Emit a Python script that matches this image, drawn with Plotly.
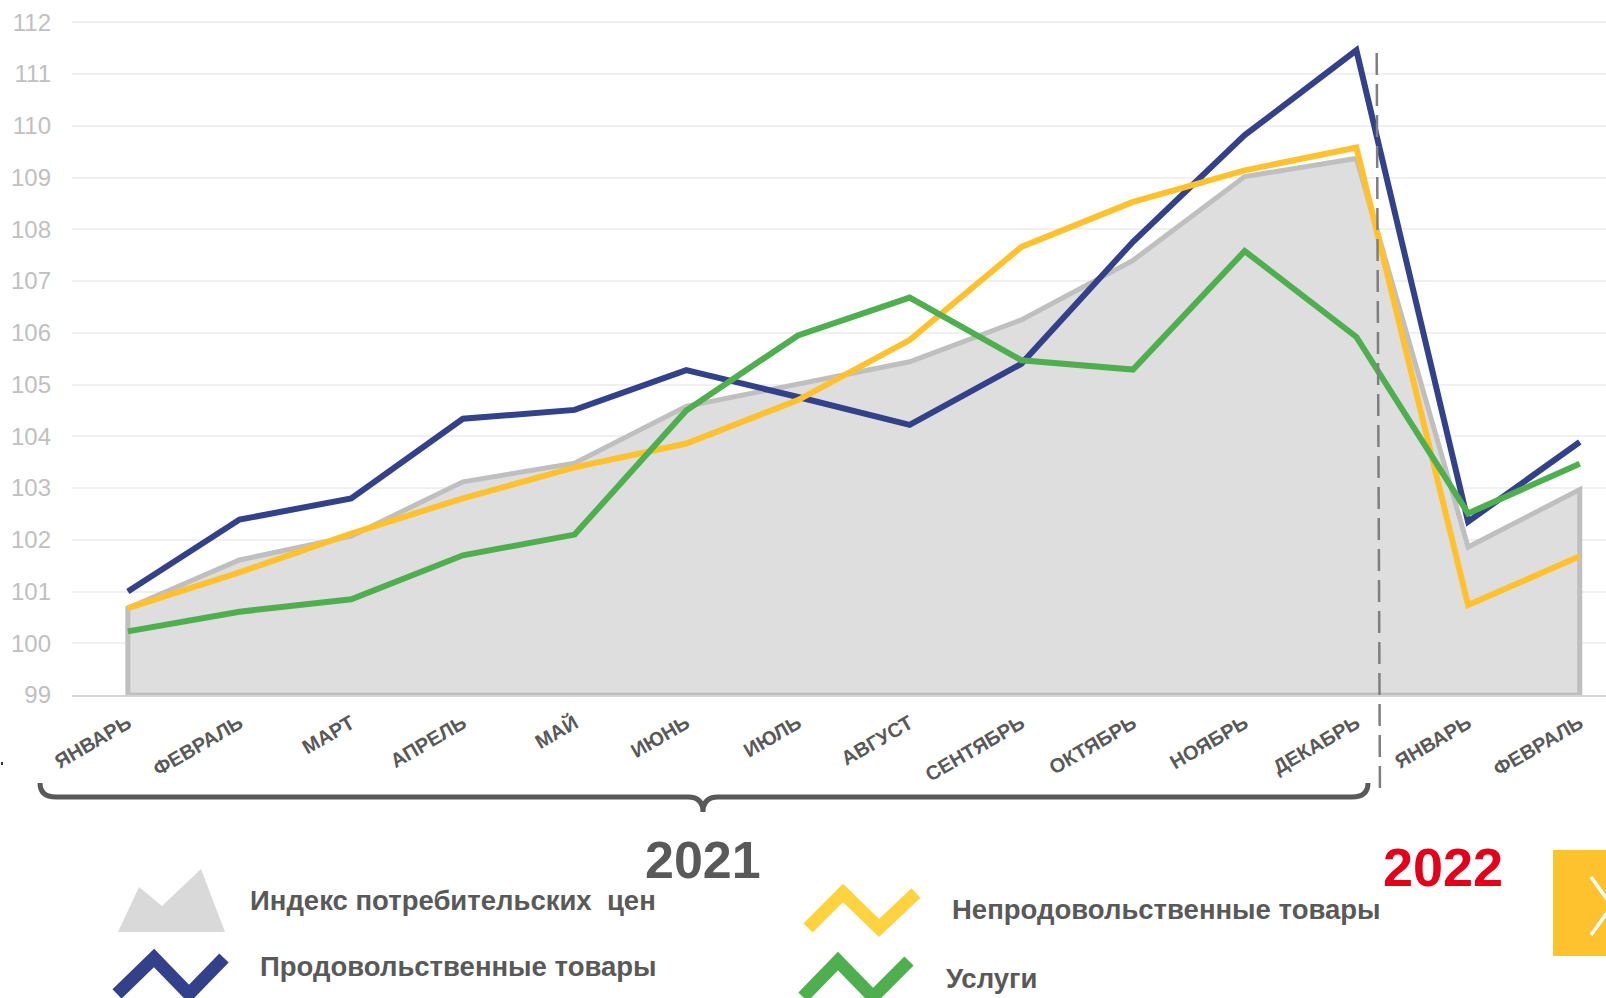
import plotly.graph_objects as go

# ---------------- data ----------------
months = ["ЯНВАРЬ", "ФЕВРАЛЬ", "МАРТ", "АПРЕЛЬ", "МАЙ", "ИЮНЬ", "ИЮЛЬ",
          "АВГУСТ", "СЕНТЯБРЬ", "ОКТЯБРЬ", "НОЯБРЬ", "ДЕКАБРЬ", "ЯНВАРЬ", "ФЕВРАЛЬ"]
cpi = [100.68, 101.61, 102.07, 103.12, 103.48, 104.58, 105.02,
       105.44, 106.25, 107.40, 109.02, 109.37, 101.86, 102.97]
food = [101.00, 102.39, 102.80, 104.34, 104.51, 105.28, 104.76,
        104.22, 105.40, 107.76, 109.82, 111.46, 102.35, 103.89]
nonfood = [100.68, 101.37, 102.12, 102.80, 103.40, 103.86, 104.70,
           105.86, 107.66, 108.53, 109.14, 109.58, 100.74, 101.68]
services = [100.23, 100.61, 100.85, 101.70, 102.10, 104.50, 105.95,
            106.68, 105.47, 105.29, 107.58, 105.92, 102.51, 103.47]
yticks = list(range(99, 113))
legend_names = ["Индекс потребительских\u00a0 цен", "Продовольственные товары",
                "Непродовольственные товары", "Услуги"]
years = ["2021", "2022"]

# ---------------- layout constants ----------------
W, H = 1606, 998
ML, MR, MT, MB = 72, 0, 12, 303
X_RANGE = [-0.5, 13.235]
Y_RANGE = [99, 112.2]

def px(x):
    return (x - ML) / (W - ML - MR)

def py(y):
    return (H - MB - y) / (H - MT - MB)

NAVY = "#33418a"
YELLOW = "#ffc22e"
GREEN = "#4faf4f"
GREY_LINE = "#bfbfbf"
GREY_FILL = "#dedede"
TEXT = "#595959"
FONT_N = "Liberation Sans Narrow, Arial Narrow, Liberation Sans, Arial, sans-serif"

idx = list(range(len(months)))

fig = go.Figure()

# CPI area (closed polygon down to the baseline)
fig.add_trace(go.Scatter(
    x=[idx[0]] + idx + [idx[-1], idx[0]],
    y=[Y_RANGE[0]] + cpi + [Y_RANGE[0], Y_RANGE[0]],
    mode="lines", fill="toself", fillcolor=GREY_FILL,
    line=dict(color=GREY_LINE, width=5),
    name=legend_names[0], showlegend=False, hoverinfo="skip"))

for vals, col, nm in [(food, NAVY, legend_names[1]),
                      (nonfood, YELLOW, legend_names[2]),
                      (services, GREEN, legend_names[3])]:
    fig.add_trace(go.Scatter(x=idx, y=vals, mode="lines",
                             line=dict(color=col, width=6),
                             name=nm, showlegend=False))

shapes = []
# dashed separator between years
shapes.append(dict(type="line", xref="x", yref="paper",
                   x0=11.182, y0=py(53), x1=11.211, y1=py(795),
                   line=dict(color="#7f7f7f", width=2.5, dash="22px,9px")))

# curly brace under 2021
brace = (f"M {px(40)},{py(783)} Q {px(40)},{py(797)} {px(56)},{py(797)} "
         f"L {px(688)},{py(797)} Q {px(703)},{py(797)} {px(703)},{py(812)} "
         f"Q {px(703)},{py(797)} {px(718)},{py(797)} "
         f"L {px(1352)},{py(797)} Q {px(1368)},{py(797)} {px(1368)},{py(783)}")
shapes.append(dict(type="path", xref="paper", yref="paper", path=brace,
                   line=dict(color=TEXT, width=5)))

def zig(pts):
    s = "M " + " L ".join(f"{px(a)},{py(b)}" for a, b in pts)
    return s

# legend icons
mount = zig([(118, 932), (139, 887), (162, 906), (201, 869), (225, 932)]) + " Z"
shapes.append(dict(type="path", xref="paper", yref="paper", path=mount,
                   fillcolor="#d9d9d9", line=dict(width=0)))
shapes.append(dict(type="path", xref="paper", yref="paper",
                   path=zig([(117, 994), (154, 958), (189, 994), (224, 958)]),
                   line=dict(color=NAVY, width=13)))
shapes.append(dict(type="path", xref="paper", yref="paper",
                   path=zig([(808, 928), (843, 893), (879, 928), (916, 893)]),
                   line=dict(color="#ffd23f", width=13)))
shapes.append(dict(type="path", xref="paper", yref="paper",
                   path=zig([(803, 997), (838, 961), (873, 997), (909, 961)]),
                   line=dict(color=GREEN, width=13)))

# yellow nav box with chevron
shapes.append(dict(type="rect", xref="paper", yref="paper",
                   x0=px(1553), x1=px(1610), y0=py(956), y1=py(850),
                   fillcolor="#fec22f", line=dict(width=0)))
shapes.append(dict(type="path", xref="paper", yref="paper",
                   path=zig([(1591, 877), (1612, 906), (1591, 935)]),
                   line=dict(color="white", width=3.5)))
# tiny dot at left
shapes.append(dict(type="rect", xref="paper", yref="paper",
                   x0=px(1), x1=px(3), y0=py(765), y1=py(762),
                   fillcolor="#333333", line=dict(width=0)))

annotations = []
legend_pos = [(248, 900), (258, 966), (950, 909), (944, 978)]
for name, (ax, ay) in zip(legend_names, legend_pos):
    annotations.append(dict(text=name, xref="paper", yref="paper",
                            x=px(ax), y=py(ay), xanchor="left", yanchor="middle",
                            showarrow=False,
                            font=dict(family=FONT_N, size=27.5, color=TEXT, weight="bold")))
annotations.append(dict(text=years[0], xref="paper", yref="paper",
                        x=px(686 * 1606 / 1568), y=py(860), xanchor="center", yanchor="middle",
                        showarrow=False,
                        font=dict(family=FONT_N, size=52, color=TEXT, weight="bold")))
annotations.append(dict(text=years[1], xref="paper", yref="paper",
                        x=px(1409 * 1606 / 1568), y=py(867), xanchor="center", yanchor="middle",
                        showarrow=False,
                        font=dict(family=FONT_N, size=54, color="#e2001a", weight="bold")))

fig.update_layout(
    width=W, height=H, autosize=False,
    margin=dict(l=ML, r=MR, t=MT, b=MB, pad=0),
    paper_bgcolor="white", plot_bgcolor="white",
    shapes=shapes, annotations=annotations,
    xaxis=dict(range=X_RANGE, tickvals=idx, ticktext=months, tickangle=-30,
               showgrid=False, zeroline=False, showline=True,
               linecolor="#d4d4d4", linewidth=2, ticks="",
               tickfont=dict(family=FONT_N, size=20, color=TEXT, weight="bold"),
               ticklabelstandoff=7),
    yaxis=dict(range=Y_RANGE, tickvals=yticks, showgrid=True,
               gridcolor="#f0f0f0", gridwidth=1.5, zeroline=False,
               showline=False, ticks="",
               tickfont=dict(family="Liberation Sans, Arial, sans-serif",
                             size=24, color="#c0c0c0"),
               ticklabelstandoff=20),
    showlegend=False,
)

fig.write_html("out.html", config={"displayModeBar": False},
               post_script="document.body.style.margin='0';document.body.style.overflow='hidden';")
